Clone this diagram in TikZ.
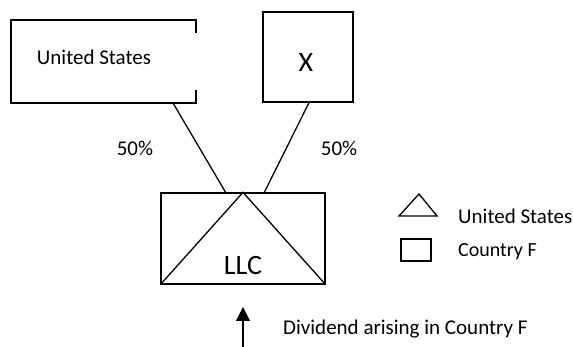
\documentclass[tikz,border=0pt]{standalone}
\usepackage{fontspec}
\setmainfont{Carlito}
\usetikzlibrary{arrows.meta}
\begin{document}
\begin{tikzpicture}[x=1pt,y=-1pt,
  ln/.style={line width=1.3pt, line join=miter},
  lbl/.style={inner sep=0pt, font=\fontsize{21}{24}\selectfont},
  big/.style={inner sep=0pt, font=\fontsize{28}{30}\selectfont},
  small/.style={inner sep=0pt, font=\fontsize{20}{22}\selectfont}]
\useasboundingbox (0,0) rectangle (573,347);
% United States box (right edge partly drawn)
\draw[ln] (196,33) -- (196,20) -- (11,20) -- (11,103) -- (196,103) -- (196,90);
\node[lbl] (ustext) at (94,57) {United States};
% X box
\node[draw, ln, minimum width=90pt, minimum height=90pt, inner sep=0pt] (xbox) at (308,57) {};
\node[big] (xtext) at (306,63) {X};
% LLC box
\node[draw, ln, minimum width=164pt, minimum height=91pt, inner sep=0pt] (llc) at (243,238.5) {};
\draw[ln] (llc.south west) -- (llc.north) -- (llc.south east);
\node[big] (llctext) at (243,266) {LLC};
% connectors
\coordinate (usfoot) at (173,103);
\coordinate (llcl) at (226,193);
\coordinate (llcr) at (264,193);
\draw[ln] (usfoot) -- (llcl);
\path (xbox.south) ++(1,0) coordinate (xfoot);
\draw[ln] (xfoot) -- (llcr);
\node[lbl] (p1) at (135,148) {50\%};
\node[lbl] (p2) at (339,148) {50\%};
% arrow
\coordinate (arrb) at (243,347);
\coordinate (arrt) at (243,307);
\draw[ln, -{Triangle[length=14pt,width=14pt]}] (arrb) -- (arrt);
\node[lbl, anchor=west] (div) at (283,329) {Dividend arising in Country F};
% legend
\draw[ln] (399,216) -- (419,194) -- (437,216) -- cycle;
\node[lbl, anchor=west] (leg1) at (458,216) {United States};
\node[draw, ln, minimum width=30pt, minimum height=22pt, inner sep=0pt] (sq) at (416,250) {};
\node[small, anchor=west] (leg2) at (458,252) {Country F};
\end{tikzpicture}
\end{document}
